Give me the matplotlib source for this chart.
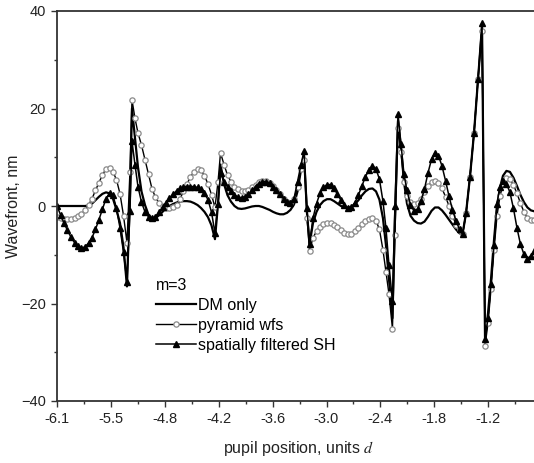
import numpy as np
import matplotlib.pyplot as plt

# pupil position (units d) and wavefront (nm)
pupil_x = [-6.100, -6.060, -6.020, -5.981, -5.941, -5.901, -5.861, -5.822, -5.782, -5.742,
           -5.702, -5.663, -5.623, -5.583, -5.543, -5.503, -5.464, -5.424, -5.384, -5.344,
           -5.305, -5.271, -5.248,
           -5.214, -5.180, -5.140, -5.100, -5.060, -5.020, -4.981, -4.941, -4.901, -4.861,
           -4.822, -4.782, -4.742, -4.702, -4.663, -4.623, -4.583, -4.543, -4.503, -4.464,
           -4.424, -4.384, -4.344, -4.305, -4.270, -4.242,
           -4.202, -4.162, -4.123, -4.083, -4.043, -4.003, -3.964, -3.924, -3.884, -3.844,
           -3.805, -3.765, -3.725, -3.685, -3.645, -3.606, -3.566, -3.526, -3.486, -3.447,
           -3.407, -3.367, -3.327, -3.293, -3.259, -3.230,
           -3.191, -3.151, -3.111, -3.072, -3.032, -2.992, -2.952, -2.913, -2.873, -2.833,
           -2.793, -2.754, -2.714, -2.674, -2.634, -2.595, -2.555, -2.515, -2.475, -2.436,
           -2.396, -2.362, -2.328, -2.288, -2.260, -2.225,
           -2.191, -2.157, -2.123, -2.083, -2.043, -2.003, -1.964, -1.924, -1.884, -1.844,
           -1.805, -1.765, -1.725, -1.685, -1.645, -1.606, -1.566, -1.526, -1.492,
           -1.452, -1.407, -1.361, -1.316, -1.270, -1.236,
           -1.202, -1.168, -1.134, -1.100, -1.066, -1.032, -0.993, -0.953, -0.913, -0.873,
           -0.834, -0.794, -0.754, -0.714, -0.674]

dm_only = [0, 0, 0, 0, 0, 0, 0, 0, 0, 0.1,
           0.5, 1.2, 1.9, 2.5, 2.8, 2.6, 1.5, -0.8, -3.5, -8.5,
           -16.5, 2.0, 20.0,
           14.0, 8.0, 3.0, 0.2, -1.8, -2.7, -2.5, -1.9, -1.2, -0.5,
           0.0, 0.4, 0.7, 0.9, 1.0, 1.0, 0.9, 0.6, 0.2, -0.4,
           -1.2, -2.3, -4.0, -6.8, 0.5, 8.5,
           4.5, 2.2, 0.9, 0.0, -0.5, -0.6, -0.5, -0.3, -0.1, 0.0,
           0.0, -0.2, -0.5, -0.8, -1.2, -1.5, -1.7, -1.7, -1.4, -0.8,
           0.3, 3.0, 7.5, 10.5, -1.5, -7.8,
           -3.5, -1.2, 0.2, 1.0, 1.4, 1.4, 1.0, 0.5, 0.0, -0.3,
           -0.4, -0.2, 0.4, 1.2, 2.2, 3.0, 3.5, 3.6, 3.0, 1.3,
           -2.5, -8.0, -15.0, -23.0, -3.0, 17.5,
           12.0, 5.0, 0.5, -2.0, -3.0, -3.5, -3.6, -3.2, -2.2, -1.0,
           -0.3, -0.3, -0.9, -1.8, -2.8, -3.8, -4.8, -5.6, -5.8,
           -1.5, 6.0, 15.0, 26.0, 37.0, -27.3,
           -22.0, -15.0, -7.0, 0.0, 3.8, 6.2, 7.2, 7.0, 5.8, 4.1,
           2.3, 0.8, -0.3, -0.9, -1.1]

pyramid_wfs = [-2.2, -2.5, -2.7, -2.7, -2.6, -2.4, -2.1, -1.6, -0.9, 0.2,
               1.5, 3.2, 4.8, 6.4, 7.6, 7.8, 7.0, 5.4, 2.5, -2.0,
               -7.5, 7.0, 21.8,
               18.0, 15.0, 12.5, 9.5, 6.5, 3.5, 1.8, 0.6, 0.0, -0.4,
               -0.4, -0.2, 0.3, 1.5, 3.0, 4.5, 6.0, 7.0, 7.5, 7.3,
               6.2, 4.5, 2.3, -0.3, 5.0, 10.9,
               8.5, 6.3, 5.0, 4.0, 3.4, 3.0, 3.0, 3.3, 3.8, 4.4,
               4.9, 5.2, 5.1, 4.8, 4.1, 3.3, 2.4, 1.5, 0.9, 0.7,
               1.4, 4.0, 7.5, 9.5, -2.5, -9.2,
               -6.5, -5.2, -4.3, -3.7, -3.4, -3.4, -3.8, -4.4, -5.0, -5.5,
               -5.8, -5.7, -5.2, -4.5, -3.7, -3.0, -2.6, -2.5, -3.0, -4.8,
               -9.0, -13.5, -18.0, -25.2, -6.0, 16.0,
               11.0, 5.0, 2.0, 0.8, 0.4, 0.7, 1.5, 2.8, 4.1, 4.9,
               5.2, 4.8, 3.6, 1.9, 0.0, -2.0, -3.8, -5.0, -5.8,
               -1.5, 6.0, 15.0, 26.0, 36.0, -28.7,
               -24.0, -17.0, -9.0, -2.0, 2.0, 4.5, 5.8, 5.5, 4.3, 2.6,
               0.6, -1.2, -2.5, -2.8, -2.8]

filtered_sh = [0, -1.8, -3.5, -5.0, -6.4, -7.5, -8.3, -8.6, -8.4, -7.6,
               -6.5, -4.8, -2.8, -0.6, 1.5, 2.6, 2.2, -0.5, -4.5, -9.5,
               -15.5, -1.0, 13.3,
               8.5, 4.0, 0.8, -1.2, -2.2, -2.5, -2.2, -1.3, -0.3, 0.7,
               1.6, 2.4, 3.1, 3.6, 3.9, 4.0, 4.0, 4.0, 3.8, 3.4,
               2.6, 1.3, -1.3, -5.5, 0.5, 6.8,
               5.0, 3.9, 3.0, 2.3, 1.8, 1.7, 1.9, 2.4, 3.2, 4.0,
               4.6, 5.0, 5.0, 4.7, 4.0, 3.2, 2.4, 1.5, 0.9, 0.7,
               1.5, 5.0, 8.5, 11.3, -0.5, -7.8,
               -2.5, 0.5, 2.6, 3.8, 4.4, 4.4, 3.6, 2.4, 1.2, 0.2,
               -0.4, -0.2, 0.7, 2.3, 4.2, 6.0, 7.4, 8.2, 7.6, 5.5,
               1.0, -4.5, -12.0, -19.5, 0.0, 18.9,
               12.7, 6.5, 3.2, 0.2, -1.0, -0.6, 1.0, 3.5, 6.8, 9.6,
               10.9, 10.3, 8.2, 5.2, 2.0, -0.8, -3.0, -4.8, -5.8,
               -1.5, 6.0, 15.0, 26.0, 37.6, -27.3,
               -23.0, -16.0, -8.0, 0.5, 4.0, 5.1, 4.6, 2.8, -0.5, -4.5,
               -7.8, -9.9, -10.8, -10.2, -9.2]

x_tick_labels = ["-6.1", "-5.5", "-4.8", "-4.2", "-3.6", "-3.0", "-2.4", "-1.8", "-1.2"]
y_ticks = [-40, -20, 0, 20, 40]

plt.rcParams['font.family'] = ['Liberation Sans', 'DejaVu Sans']
plt.rcParams['mathtext.fontset'] = 'stix'

fig = plt.figure(figsize=(5.34, 4.63), dpi=100)
ax = fig.add_axes([57 / 534, 62 / 463, 483 / 534, 390 / 463])

ax.plot(pupil_x, dm_only, color='black', lw=1.6, label='DM only')
ax.plot(pupil_x, pyramid_wfs, color='black', lw=1.0, marker='o', ms=3.8,
        mfc='white', mec='#8a8a8a', mew=0.9, label='pyramid wfs')
ax.plot(pupil_x, filtered_sh, color='black', lw=1.1, marker='^', ms=3.8,
        mfc='black', mec='black', label='spatially filtered SH')

# evenly spaced ticks, labels as printed on the original
step = 0.6125
x_major = -6.1 + step * np.arange(len(x_tick_labels))
ax.set_xticks(x_major)
ax.set_xticklabels(x_tick_labels)
ax.set_xticks(x_major + step / 2, minor=True)
ax.set_xlim(-6.1, -6.1 + 483 / 53.9 * step)

ax.set_yticks(y_ticks)
ax.set_yticks([-30, -10, 10, 30], minor=True)
ax.set_ylim(-40, 40)

for s in ['left', 'bottom', 'top', 'right']:
    ax.spines[s].set_color('#333333')
    ax.spines[s].set_linewidth(1.3)

ax.tick_params(which='major', direction='out', length=4.5, width=1.0,
               color='#333333', labelsize=10.5, labelcolor='#222222', pad=3.5)
ax.tick_params(which='minor', direction='out', length=2.5, width=1.0, color='#333333')

ax.set_xlabel(r"pupil position, units $d$", fontsize=11.5, color='#222222', labelpad=9)
ax.set_ylabel("Wavefront, nm", fontsize=11.5, color='#222222', labelpad=0)

leg = ax.legend(title='m=3', loc='upper left', bbox_to_anchor=(0.205, 0.315),
                frameon=False, fontsize=11.5, title_fontsize=11.5, handlelength=2.5,
                handletextpad=0.15, borderpad=0, borderaxespad=0, labelspacing=0.3,
                alignment='left')

fig.savefig('out.png', dpi=100)
